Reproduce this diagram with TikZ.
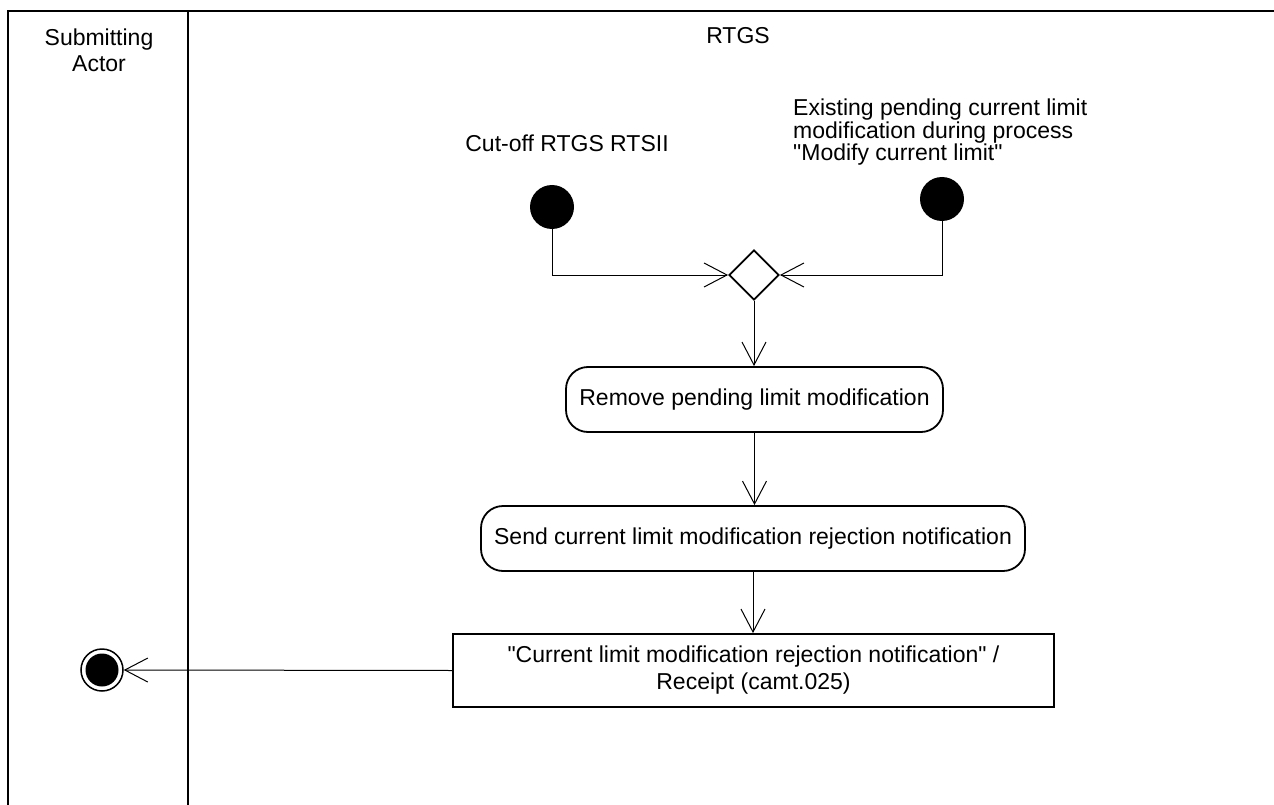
\documentclass[tikz,border=0pt]{standalone}
\usepackage{fontspec}
\setmainfont{Liberation Sans}
\usetikzlibrary{arrows.meta,shapes.geometric}
\tikzset{
  txt/.style={font=\fontsize{23}{26}\selectfont, inner sep=0pt},
  frameline/.style={line width=2pt},
  startnode/.style={circle, fill=black, minimum size=44pt, inner sep=0pt},
  actbox/.style={draw, line width=1.8pt, rounded corners=22pt, inner sep=0pt, font=\fontsize{23}{26}\selectfont},
  objbox/.style={draw, line width=1.8pt, inner sep=0pt, align=center, font=\fontsize{23}{26}\selectfont},
  decnode/.style={diamond, draw, line width=1.8pt, minimum width=50pt, minimum height=50pt, inner sep=0pt},
  flow/.style={line width=1pt, -{Straight Barb[length=23pt, width=24pt, line width=1pt]}}
}
\begin{document}
\begin{tikzpicture}[x=1pt, y=-1pt]
\useasboundingbox (0,0) rectangle (1274,805);
% swimlane frame
\coordinate (tl) at (8,11);
\coordinate (tr) at (1274,11);
\coordinate (bl) at (8,805);
\coordinate (dt) at (188,11);
\coordinate (db) at (188,805);
\draw[frameline] (bl) -- (tl) -- (tr);
\draw[frameline] (dt) -- (db);
% headers
\node[txt, align=center] (hsub) at (99,50) {Submitting\\Actor};
\node[txt] (hrtgs) at (738,36) {RTGS};
% start nodes and labels
\node[txt] (l1) at (567,143) {Cut-off RTGS RTSII};
\node[txt, align=left, anchor=north west, font=\fontsize{23}{22.5}\selectfont] (l2) at (793,99) {Existing pending current limit\\modification during process\\\textquotedbl Modify current limit\textquotedbl};
\node[startnode] (s1) at (552,207) {};
\node[startnode] (s2) at (942,199) {};
% decision
\node[decnode] (dec) at (754,275) {};
% activities
\node[actbox, minimum width=377pt, minimum height=65pt] (rem) at (754.5,399.5) {Remove pending limit modification};
\node[actbox, minimum width=544pt, minimum height=65pt] (send) at (753,538.5) {Send current limit modification rejection notification};
\node[objbox, minimum width=601pt, minimum height=73pt] (rcpt) at (753.5,670.5) {\textquotedbl Current limit modification rejection notification\textquotedbl{} /\\[1pt]Receipt (camt.025)};
% final node
\node[circle, draw, line width=1.5pt, minimum size=42pt, inner sep=0pt] (fin) at (102,670) {};
\fill (fin.center) circle (16.5pt);
% flows
\draw[flow] (s1.south) |- (dec.west);
\draw[flow] (s2.south) |- (dec.east);
\draw[flow] (dec.south) -- (rem.north -| dec.south);
\draw[flow] (rem.south) -- (send.north -| rem.south);
\draw[flow] (send.south) -- (rcpt.north -| send.south);
\draw[flow] (rcpt.west) -- (fin.east);
\end{tikzpicture}
\end{document}
